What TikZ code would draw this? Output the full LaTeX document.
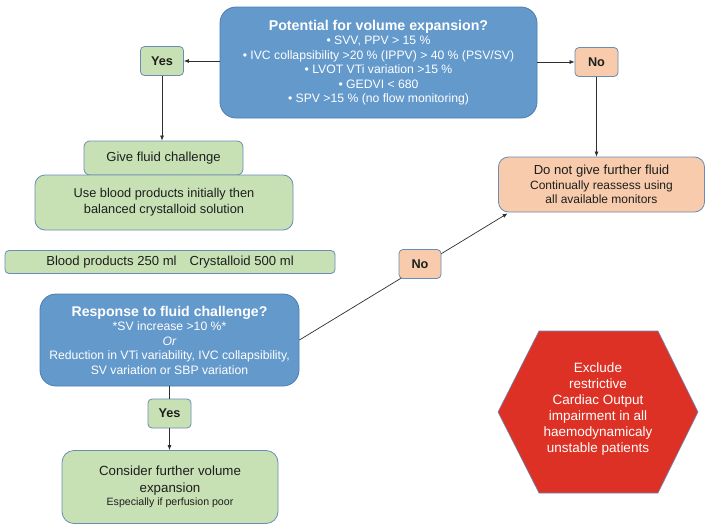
\documentclass[tikz,border=0pt]{standalone}
\usepackage{fontspec}
\setmainfont{Liberation Sans}
\usetikzlibrary{arrows.meta,calc}
\definecolor{qblue}{HTML}{6499CC}
\definecolor{qblueedge}{HTML}{4C7DB0}
\definecolor{qgreen}{HTML}{C7E1B5}
\definecolor{qorange}{HTML}{F7CBAB}
\definecolor{qred}{HTML}{DD3125}
\definecolor{qedge}{HTML}{6A8CB6}
\definecolor{qline}{HTML}{2E2E2E}
\definecolor{qtext}{HTML}{1E1E1E}

\begin{document}
\begin{tikzpicture}[x=1pt,y=-1pt,
  box/.style={draw=qedge, line width=0.8pt, rounded corners=6pt, inner sep=0pt,
    align=center, text=qtext},
  question/.style={box, draw=qblueedge, fill=qblue, text=white, rounded corners=16pt},
  greenbox/.style={box, fill=qgreen},
  orangebox/.style={box, fill=qorange},
  answer/.style={box, rounded corners=4pt, minimum width=43pt, minimum height=29pt,
    font=\fontsize{12.7}{14}\selectfont\bfseries},
  conn/.style={draw=qline, line width=0.7pt},
  arr/.style={conn, -{Latex[length=5pt,width=4pt]}}]

\useasboundingbox (0,0) rectangle (705,525);
\fill[white] (0,0) rectangle (705,525);

% first decision
\node[question, minimum width=317pt, minimum height=111pt,
  font=\fontsize{12.2}{14.5}\selectfont] (pot) at (378.5,62.5)
  {{\fontsize{14.2}{14.5}\selectfont\bfseries Potential for volume expansion?}\\
   • SVV, PPV > 15 \%\\
   • IVC collapsibility >20 \% (IPPV) > 40 \% (PSV/SV)\\
   • LVOT VTi variation >15 \%\\
   • GEDVI < 680\\
   • SPV >15 \% (no flow monitoring)};

\node[answer, fill=qgreen] (yestop) at (162,61) {Yes};
\node[answer, fill=qorange] (notop) at (596.5,62) {No};

% fluid branch
\node[greenbox, minimum width=159pt, minimum height=34pt,
  font=\fontsize{13.1}{16}\selectfont] (give) at (163.5,158) {Give fluid challenge};
\node[greenbox, minimum width=258pt, minimum height=55pt, rounded corners=10pt,
  font=\fontsize{12.8}{16}\selectfont] (use) at (164,202.5)
  {Use blood products initially then\\balanced crystalloid solution};
\node[greenbox, minimum width=330pt, minimum height=23pt, rounded corners=4pt,
  font=\fontsize{13.1}{16}\selectfont] (amount) at (170,262)
  {Blood products 250 ml\hspace{13pt}Crystalloid 500 ml};

% stop branch
\node[orangebox, minimum width=206pt, minimum height=55pt, rounded corners=10pt,
  font=\fontsize{12}{14.5}\selectfont] (dng) at (601.5,184.5)
  {{\fontsize{13.1}{14.5}\selectfont Do not give further fluid}\\
   Continually reassess using\\all available monitors};

% second decision
\node[question, minimum width=259pt, minimum height=92pt,
  font=\fontsize{12.2}{14.5}\selectfont] (resp) at (169.5,340)
  {{\fontsize{14.1}{14.5}\selectfont\bfseries Response to fluid challenge?}\\
   *SV increase >10 \%*\\
   \textit{Or}\\
   Reduction in VTi variability, IVC collapsibility,\\
   SV variation or SBP variation};

\coordinate (dngin) at ($(dng.south west)+(9.5,1)$);
\draw[arr] (resp.east) -- (dngin);
\node[answer, fill=qorange, minimum width=42pt] (nomid) at (420,264) {No};

\node[answer, fill=qgreen] (yesbot) at (169.5,413.5) {Yes};
\node[greenbox, minimum width=216pt, minimum height=73pt, rounded corners=12pt,
  font=\fontsize{13.3}{17}\selectfont] (cons) at (170,487)
  {Consider further volume\\expansion\\[-4pt]
   {\fontsize{10.6}{12}\selectfont Especially if perfusion poor}};

% warning hexagon
\fill[qred, draw=qedge, line width=0.6pt]
  (539,331) -- (658,331) -- (698,412) -- (658,493) -- (539,493) -- (498,412) -- cycle;
\node[align=center, text=white, font=\fontsize{13.5}{16}\selectfont] (hex) at (598,409)
  {Exclude\\restrictive\\Cardiac Output\\impairment in all\\haemodynamicaly\\unstable patients};

% connectors
\draw[arr] (pot.west |- yestop.east) -- (yestop.east);
\draw[arr] (pot.east |- notop.west) -- (notop.west);
\draw[arr] (yestop.south) -- (yestop.south |- give.north);
\draw[arr] (notop.south) -- (notop.south |- dng.north);
\draw[conn] (resp.south |- yesbot.north) ++(0,-13) -- (yesbot.north);
\draw[arr] (yesbot.south) -- (yesbot.south |- cons.north);
\end{tikzpicture}
\end{document}
